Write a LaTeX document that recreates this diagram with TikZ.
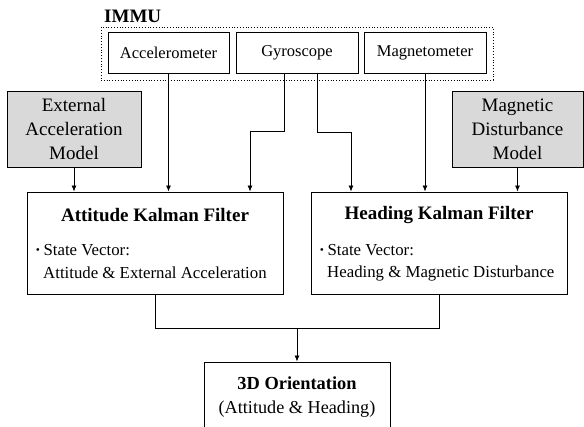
\documentclass[tikz,border=0pt]{standalone}
\usepackage{fontspec}
\setmainfont{Liberation Serif}
\usetikzlibrary{arrows.meta}
\begin{document}
\begin{tikzpicture}[x=1pt,y=-1pt,
  box/.style={draw, line width=0.9pt, inner sep=0pt},
  sensor/.style={box, minimum width=121pt, minimum height=41pt, font=\fontsize{16.5}{20}\selectfont},
  model/.style={box, fill=black!15, minimum width=134pt, minimum height=76pt, align=center, font=\fontsize{19}{24}\selectfont},
  kf/.style={box, minimum width=256pt, minimum height=102pt},
  title/.style={inner sep=0pt, font=\bfseries\fontsize{19}{22}\selectfont},
  body/.style={inner sep=0pt, anchor=west, font=\fontsize{16.8}{20}\selectfont},
  conn/.style={line width=0.8pt},
  arr/.style={conn, -{Latex[length=6pt,width=5pt]}}]
\clip (0,0) rectangle (584,427);
% IMMU group
\node[draw, dotted, line width=0.8pt, minimum width=392pt, minimum height=53pt, inner sep=0pt] (immu) at (297,53.5) {};
\node[inner sep=0pt, anchor=west, font=\bfseries\fontsize{19}{22}\selectfont] (immulabel) at (104,16) {IMMU};
\node[sensor] (acc) at (168.5,52.5) {Accelerometer};
\node[sensor, minimum width=122pt] (gyro) at (297,52.5) {Gyroscope};
\node[sensor, minimum width=122pt] (mag) at (425,52.5) {Magnetometer};
% models
\node[model] (ext) at (74,129) {External\\Acceleration\\Model};
\node[model, minimum width=131pt] (magm) at (517.5,129) {Magnetic\\Disturbance\\Model};
% filters
\node[kf] (akf) at (155,243) {};
\node[kf] (hkf) at (439,243) {};
\node[title] (akft) at (155,215) {Attitude Kalman Filter};
\node[title] (hkft) at (439,215) {Heading Kalman Filter};
\node[body] (akfb1) at (35,250) {\textbf{·}\,State Vector:};
\node[body] (akfb2) at (43,273) {Attitude \& External Acceleration};
\node[body] (hkfb1) at (319,250) {\textbf{·}\,State Vector:};
\node[body] (hkfb2) at (327,273) {Heading \& Magnetic Disturbance};
% output
\node[box, minimum width=186pt, minimum height=78pt] (ori) at (297,401) {};
\node[title, font=\bfseries\fontsize{18.4}{22}\selectfont] (orit) at (297,383) {3D Orientation};
\node[inner sep=0pt, font=\fontsize{18.2}{22}\selectfont] (orib) at (297,409) {(Attitude \& Heading)};
% connectors
\draw[arr] (ext.south) -- (ext.south |- akf.north);
\draw[arr] (acc.south) -- (acc.south |- akf.north);
\draw[arr] ([xshift=-13pt]gyro.south) -- ++(0,58) -| ([xshift=95pt]akf.north);
\draw[arr] ([xshift=20pt]gyro.south) -- ++(0,59) -| ([xshift=-88pt]hkf.north);
\draw[arr] (mag.south) -- (mag.south |- hkf.north);
\draw[arr] (magm.south) -- (magm.south |- hkf.north);
\draw[conn] (akf.south) -- ++(0,34) -| (hkf.south);
\coordinate (join) at (297,328);
\draw[arr] (join) -- (ori.north);
\end{tikzpicture}
\end{document}
